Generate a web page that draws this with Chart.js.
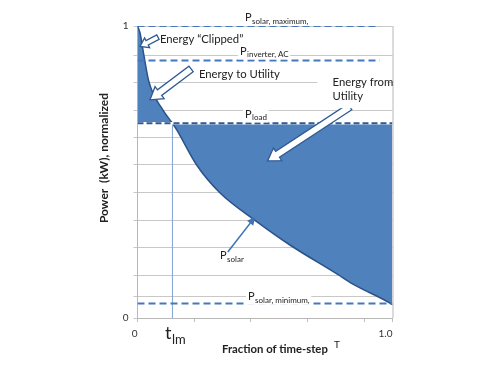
<!DOCTYPE html>
<html>
<head>
<meta charset="utf-8">
<script src="https://cdn.jsdelivr.net/npm/chart.js@4"></script>
<style>
  html, body { margin: 0; padding: 0; background: #fff; }
  #wrap { width: 488px; height: 366px; }
</style>
</head>
<body>
<div id="wrap"><canvas id="chart"></canvas></div>
<script>
// Solar curve (fraction of time-step vs normalized power)
const fracT  = [0, 0.01, 0.025, 0.045, 0.1, 0.137, 0.154, 0.232, 0.323, 0.465, 0.598, 0.782, 0.845, 0.99, 1.0];
const pSolar = [1.0, 0.976, 0.9, 0.808, 0.712, 0.667, 0.644, 0.524, 0.429, 0.332, 0.25, 0.151, 0.116, 0.051, 0.045];

// Reference levels
const levelMax = 1.0;
const levelInverter = 0.882;
const levelLoad = 0.667;
const levelMin = 0.05;
const tLm = 0.137;

// Axis ticks
const yTicks = [0, 0.075, 0.147, 0.241, 0.335, 0.429, 0.524, 0.618, 0.712, 0.806, 0.90, 1];
const yTickLabels = ['0', '', '', '', '', '', '', '', '', '', '', '1'];
const xTicks = [0, 0.222, 0.444, 0.667, 0.889, 1];
const xTickLabels = ['0', '', '', '', '', '1.0'];

const FONT = 'Lato, "Open Sans", sans-serif';

function hLine(level, x0, x1) {
    return [{ x: x0, y: level }, { x: x1, y: level }];
}

// draws P with a subscript
function drawSub(ctx, x, y, main, sub, size, subSize, bg) {
    ctx.font = size + 'px ' + FONT;
    const w1 = ctx.measureText(main).width;
    ctx.font = subSize + 'px ' + FONT;
    const w2 = ctx.measureText(sub).width;
    if (bg) {
        ctx.fillStyle = '#fff';
        ctx.fillRect(x - 2, y - size * 0.85, w1 + w2 + 4, size * 0.85 + subSize * 0.6);
    }
    ctx.fillStyle = '#222';
    ctx.textBaseline = 'alphabetic';
    ctx.textAlign = 'left';
    ctx.font = size + 'px ' + FONT;
    ctx.fillText(main, x, y);
    ctx.font = subSize + 'px ' + FONT;
    ctx.fillText(sub, x + w1 + 0.5, y + subSize * 0.35);
}

function blockArrow(ctx, x1, y1, x2, y2, shaft, head, headLen) {
    const a = Math.atan2(y2 - y1, x2 - x1);
    const len = Math.hypot(x2 - x1, y2 - y1);
    ctx.save();
    ctx.translate(x1, y1);
    ctx.rotate(a);
    ctx.beginPath();
    ctx.moveTo(0, -shaft / 2);
    ctx.lineTo(len - headLen, -shaft / 2);
    ctx.lineTo(len - headLen, -head / 2);
    ctx.lineTo(len, 0);
    ctx.lineTo(len - headLen, head / 2);
    ctx.lineTo(len - headLen, shaft / 2);
    ctx.lineTo(0, shaft / 2);
    ctx.closePath();
    ctx.fillStyle = '#fff';
    ctx.fill();
    ctx.strokeStyle = '#2f5a93';
    ctx.lineWidth = 1.3;
    ctx.stroke();
    ctx.restore();
}

function lineArrow(ctx, x1, y1, x2, y2) {
    const a = Math.atan2(y2 - y1, x2 - x1);
    ctx.save();
    ctx.strokeStyle = '#3f73b8';
    ctx.fillStyle = '#3f73b8';
    ctx.lineWidth = 1.6;
    ctx.beginPath();
    ctx.moveTo(x1, y1);
    ctx.lineTo(x2 - 4 * Math.cos(a), y2 - 4 * Math.sin(a));
    ctx.stroke();
    ctx.translate(x2, y2);
    ctx.rotate(a);
    ctx.beginPath();
    ctx.moveTo(0, 0);
    ctx.lineTo(-8, -4);
    ctx.lineTo(-8, 4);
    ctx.closePath();
    ctx.fill();
    ctx.restore();
}

const annotations = {
    id: 'annotations',
    afterDraw(chart) {
        const ctx = chart.ctx;
        const sx = chart.scales.x, sy = chart.scales.y;
        const X = v => sx.getPixelForValue(v);
        const Y = v => sy.getPixelForValue(v);
        const area = chart.chartArea;

        // right border of the plot
        ctx.save();
        ctx.strokeStyle = '#b8b8b8';
        ctx.lineWidth = 1;
        ctx.beginPath();
        ctx.moveTo(area.right + 0.5, area.top);
        ctx.lineTo(area.right + 0.5, area.bottom);
        ctx.stroke();

        // level labels
        drawSub(ctx, X(0.4216), Y(1.017), 'P', 'solar, maximum,', 11, 8, true);
        drawSub(ctx, X(0.402), Y(0.902), 'P', 'inverter, AC', 11, 8, true);
        drawSub(ctx, X(0.4216), Y(0.686), 'P', 'load', 11, 8, true);
        drawSub(ctx, X(0.3235), Y(0.202), 'P', 'solar', 11, 8, false);
        drawSub(ctx, X(0.433), Y(0.0616), 'P', 'solar, minimum,', 11, 8, true);
        drawSub(ctx, X(0.108), Y(-0.072), 't', 'lm', 18, 13, false);

        // block arrows
        blockArrow(ctx, X(0.08), Y(0.962), X(0.01), Y(0.93), 5, 11, 8);
        blockArrow(ctx, X(0.21), Y(0.853), X(0.049), Y(0.747), 7, 15, 12);
        blockArrow(ctx, X(0.833), Y(0.723), X(0.51), Y(0.538), 7, 15, 12);
        lineArrow(ctx, X(0.354), Y(0.226), X(0.461), Y(0.346));

        // text notes
        ctx.fillStyle = '#222';
        ctx.textAlign = 'left';
        ctx.textBaseline = 'alphabetic';
        ctx.font = '11.3px ' + FONT;
        ctx.fillText('Energy “Clipped”', X(0.088), Y(0.941));
        ctx.fillText('Energy to Utility', X(0.241), Y(0.821));
        ctx.fillStyle = '#fff';
        ctx.fillRect(X(0.705), Y(0.835), 70, 34);
        ctx.fillStyle = '#222';
        ctx.fillText('Energy from', X(0.765), Y(0.796));
        ctx.fillText('Utility', X(0.765), Y(0.747));

        // axis titles
        ctx.font = 'bold 11.3px ' + FONT;
        ctx.textAlign = 'left';
        ctx.fillText('Fraction of time-step', 222, 353);
        ctx.font = '10px ' + FONT;
        ctx.fillText('T', 334, 348);
        ctx.save();
        ctx.translate(108, 158);
        ctx.rotate(-Math.PI / 2);
        ctx.font = 'bold 12px ' + FONT;
        ctx.textAlign = 'center';
        ctx.fillText('Power  (kW), normalized', 0, 0);
        ctx.restore();
        ctx.restore();
    }
};

const dashBlue = '#4577bd';

new Chart(document.getElementById('chart'), {
    type: 'line',
    data: {
        datasets: [
            { data: hLine(levelMax, 0, 0.95), borderColor: dashBlue, borderWidth: 2, borderDash: [7, 4] },
            { data: hLine(levelInverter, 0, 0.95), borderColor: dashBlue, borderWidth: 2, borderDash: [7, 4] },
            { data: hLine(levelLoad, 0, 1), borderColor: '#2f5a93', borderWidth: 2, borderDash: [6, 3] },
            { data: hLine(levelLoad, 0, 1), borderColor: '#ffffff', borderWidth: 2.5 },
            { data: hLine(levelMin, 0, 1), borderColor: dashBlue, borderWidth: 2, borderDash: [7, 4] },
            { data: [{ x: tLm, y: 0 }, { x: tLm, y: levelLoad }], borderColor: '#7fa3d3', borderWidth: 1 },
            {
                data: fracT.map((t, i) => ({ x: t, y: pSolar[i] })),
                borderColor: '#2c5288',
                borderWidth: 1.5,
                backgroundColor: '#4f81bd',
                fill: { value: levelLoad },
                cubicInterpolationMode: 'monotone'
            }
        ]
    },
    options: {
        responsive: true,
        maintainAspectRatio: false,
        animation: false,
        layout: { padding: { left: 0, right: 95.5, top: 26, bottom: 0 } },
        elements: { point: { radius: 0 } },
        plugins: {
            legend: { display: false },
            tooltip: { enabled: false }
        },
        scales: {
            x: {
                type: 'linear',
                min: 0,
                max: 1,
                afterFit: s => { s.height = 48; },
                afterBuildTicks: s => { s.ticks = xTicks.map(v => ({ value: v })); },
                ticks: {
                    autoSkip: false,
                    maxRotation: 0,
                    align: 'end',
                    padding: 6,
                    color: '#333',
                    font: { family: FONT, size: 10 },
                    callback: (v, i) => xTickLabels[i]
                },
                grid: { drawOnChartArea: false, tickLength: 4, color: '#c0c0c0' },
                border: { color: '#b8b8b8' }
            },
            y: {
                type: 'linear',
                min: 0,
                max: 1,
                afterFit: s => { s.width = 137.5; },
                afterBuildTicks: s => { s.ticks = yTicks.map(v => ({ value: v })); },
                ticks: {
                    autoSkip: false,
                    padding: 5,
                    color: '#333',
                    font: { family: FONT, size: 10 },
                    callback: (v, i) => yTickLabels[i]
                },
                grid: { color: '#c8c8c8', tickLength: 4 },
                border: { color: '#b8b8b8' }
            }
        }
    },
    plugins: [annotations]
});
</script>
</body>
</html>
